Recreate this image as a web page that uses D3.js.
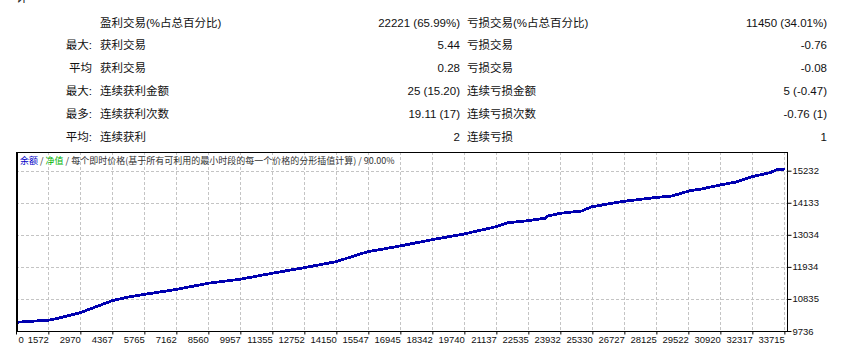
<!DOCTYPE html>
<html>
<head>
<meta charset="utf-8">
<script src="https://cdn.jsdelivr.net/npm/d3@7"></script>
<style>
    body { margin: 0; background: #fff; }
    svg { display: block; }
</style>
</head>
<body>
<div id="chart-area"></div>
<script>
// summary table
var rowPrefixes = ["", "最大:", "平均", "最大:", "最多:", "平均:"];
var winLabels = ["盈利交易(%占总百分比)", "获利交易", "获利交易", "连续获利金额", "连续获利次数", "连续获利"];
var winValues = ["22221 (65.99%)", "5.44", "0.28", "25 (15.20)", "19.11 (17)", "2"];
var lossLabels = ["亏损交易(%占总百分比)", "亏损交易", "亏损交易", "连续亏损金额", "连续亏损次数", "连续亏损"];
var lossValues = ["11450 (34.01%)", "-0.76", "-0.08", "5 (-0.47)", "-0.76 (1)", "1"];

// balance curve (trade number, balance)
var tradeNo = [160, 1646, 1996, 2956, 3393, 4354, 5140, 6014, 7149, 8546, 9944, 11341, 12739, 14136,
    15184, 15533, 16931, 18328, 19726, 21123, 21647, 22520, 23263, 23394, 23918, 24878, 25140, 25315,
    26712, 28110, 28808, 29594, 30031, 30904, 31559, 32301, 33087, 33349, 33742];
var balance = [10034, 10113, 10171, 10363, 10490, 10775, 10912, 11022, 11159, 11372, 11509, 11715, 11907, 12112,
    12376, 12455, 12651, 12867, 13062, 13312, 13449, 13518, 13601, 13679, 13772, 13851, 13943, 13998,
    14183, 14314, 14365, 14547, 14595, 14742, 14835, 15027, 15164, 15257, 15291];

// axes
var xTickValues = [160, 1572, 2970, 4367, 5765, 7162, 8560, 9957, 11355, 12752, 14150, 15547, 16945,
    18342, 19740, 21137, 22535, 23932, 25330, 26727, 28125, 29522, 30920, 32317, 33715];
var xTickLabels = ["0", "1572", "2970", "4367", "5765", "7162", "8560", "9957", "11355", "12752", "14150",
    "15547", "16945", "18342", "19740", "21137", "22535", "23932", "25330", "26727", "28125", "29522",
    "30920", "32317", "33715"];
var yTickValues = [9736, 10835, 11934, 13034, 14133, 15232];

var width = 860, height = 351;
var svg = d3.select("#chart-area").append("svg")
    .attr("width", width)
    .attr("height", height);

var fontStack = "'Liberation Sans', 'Noto Sans CJK SC', sans-serif";

// cut-off glyph from the header above
svg.append("text")
    .attr("x", 16).attr("y", 2)
    .attr("font-family", fontStack).attr("font-size", "12px")
    .attr("fill", "#222")
    .text("计");

// table rows
var rowY = d3.scaleLinear().domain([0, 5]).range([22.5, 136.5]);
var table = svg.append("g")
    .attr("font-family", fontStack)
    .attr("font-size", "11.5px")
    .attr("fill", "#111");

rowPrefixes.forEach(function(d, i) {
    var yy = rowY(i);
    table.append("text").attr("x", 92).attr("y", yy).attr("dy", "0.35em")
        .attr("text-anchor", "end").text(d);
    table.append("text").attr("x", 100).attr("y", yy).attr("dy", "0.35em")
        .text(winLabels[i]);
    table.append("text").attr("x", 460).attr("y", yy).attr("dy", "0.35em")
        .attr("text-anchor", "end").text(winValues[i]);
    table.append("text").attr("x", 467).attr("y", yy).attr("dy", "0.35em")
        .text(lossLabels[i]);
    table.append("text").attr("x", 827).attr("y", yy).attr("dy", "0.35em")
        .attr("text-anchor", "end").text(lossValues[i]);
});

// chart area
var plot = {left: 16, right: 787, top: 152, bottom: 331};

var x = d3.scaleLinear().domain([160, 33830]).range([plot.left, plot.right]);
var y = d3.scaleLinear().domain([9736, 15873]).range([plot.bottom, plot.top]);

// grid
svg.append("g")
    .selectAll("line.vgrid")
    .data(xTickValues.slice(1))
    .enter().append("line")
    .attr("x1", function(d) { return Math.round(x(d)) + 0.5; })
    .attr("x2", function(d) { return Math.round(x(d)) + 0.5; })
    .attr("y1", plot.top)
    .attr("y2", plot.bottom)
    .attr("stroke", "#c4c4c4")
    .attr("stroke-dasharray", "3,2");

svg.append("g")
    .selectAll("line.hgrid")
    .data(yTickValues.slice(1))
    .enter().append("line")
    .attr("x1", plot.left)
    .attr("x2", plot.right)
    .attr("y1", function(d) { return Math.round(y(d)) + 0.5; })
    .attr("y2", function(d) { return Math.round(y(d)) + 0.5; })
    .attr("stroke", "#c4c4c4")
    .attr("stroke-dasharray", "3,2");

// balance line
var line = d3.line()
    .x(function(d, i) { return x(tradeNo[i]); })
    .y(function(d) { return y(d); });

svg.append("path")
    .datum(balance)
    .attr("fill", "none")
    .attr("stroke", "#0000b0")
    .attr("stroke-width", 2.8)
    .attr("shape-rendering", "crispEdges")
    .attr("d", line);

// frame
svg.append("rect")
    .attr("x", plot.left + 0.5)
    .attr("y", plot.top + 0.5)
    .attr("width", plot.right - plot.left)
    .attr("height", plot.bottom - plot.top)
    .attr("fill", "none")
    .attr("stroke", "#000");

svg.append("line")
    .attr("x1", plot.left + 1.5).attr("x2", plot.left + 1.5)
    .attr("y1", plot.top).attr("y2", plot.bottom)
    .attr("stroke", "#000");

// x axis
var xAxis = d3.axisBottom(x)
    .tickValues(xTickValues)
    .tickSize(3)
    .tickFormat(function(d, i) { return xTickLabels[i]; });

var gx = svg.append("g")
    .attr("transform", "translate(0," + (plot.bottom + 0.5) + ")")
    .call(xAxis);
gx.select(".domain").remove();
gx.selectAll("text")
    .attr("font-family", "'Liberation Sans', sans-serif")
    .attr("font-size", "9.5px")
    .attr("fill", "#111")
    .attr("y", 5)
    .attr("dy", "0.71em")
    .style("text-anchor", function(d, i) { return i === 0 ? "start" : "end"; })
    .attr("x", function(d, i) { return i === 0 ? 2 : 0; });
gx.selectAll("line").attr("stroke", "#000");

// y axis on the right
var yAxis = d3.axisRight(y)
    .tickValues(yTickValues)
    .tickSize(4)
    .tickFormat(d3.format("d"));

var gy = svg.append("g")
    .attr("transform", "translate(" + (plot.right + 0.5) + ",0)")
    .call(yAxis);
gy.select(".domain").remove();
gy.selectAll("text")
    .attr("font-family", "'Liberation Sans', sans-serif")
    .attr("font-size", "9.5px")
    .attr("fill", "#111")
    .attr("x", 5);
gy.selectAll("line").attr("stroke", "#000");

// chart caption
var caption = svg.append("text")
    .attr("x", 20)
    .attr("y", 161)
    .attr("dy", "0.35em")
    .attr("font-family", "'Noto Sans CJK SC', sans-serif")
    .attr("font-size", "9px")
    .attr("fill", "#333");
caption.append("tspan").attr("fill", "#0000c8").text("余额");
caption.append("tspan").text(" / ");
caption.append("tspan").attr("fill", "#00b400").text("净值");
caption.append("tspan").text(" / 每个即时价格(基于所有可利用的最小时段的每一个价格的分形插值计算) / 90.00%");
</script>
</body>
</html>
